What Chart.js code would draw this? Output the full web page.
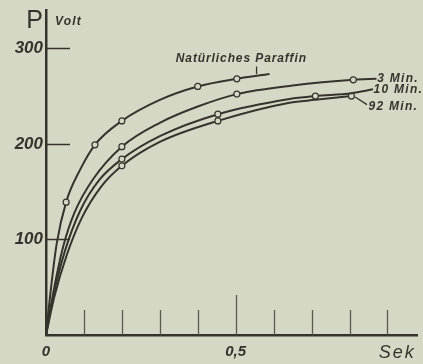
<!DOCTYPE html>
<html>
<head>
<meta charset="utf-8">
<script src="https://cdn.jsdelivr.net/npm/chart.js@4.4.1/dist/chart.umd.min.js"></script>
<style>
  html, body { margin: 0; padding: 0; background: #d6d8c6; }
  canvas { display: block; }
</style>
</head>
<body>
<canvas id="c" width="423" height="364"></canvas>
<script>
// Charging voltage P (Volt) over time (Sek) for paraffin samples
const paraffinSek   = [0, 0.01, 0.028, 0.053, 0.09, 0.129, 0.2, 0.3, 0.4, 0.503, 0.589];
const paraffinVolt  = [0, 38, 95, 139, 173, 199, 224, 246, 260, 268, 273];
const paraffinMark  = [0, 0, 0, 1, 0, 1, 1, 0, 1, 1, 0];

const min3Sek  = [0, 0.018, 0.045, 0.075, 0.124, 0.2, 0.3, 0.4, 0.503, 0.65, 0.81, 0.871];
const min3Volt = [0, 42, 92, 128, 163, 197, 222, 239, 252, 261, 267, 268];
const min3Mark = [0, 0, 0, 0, 0, 1, 0, 0, 1, 0, 1, 0];

const min10Sek  = [0, 0.02, 0.05, 0.09, 0.14, 0.2, 0.3, 0.453, 0.642, 0.71, 0.805, 0.862];
const min10Volt = [0, 42, 88, 130, 162, 184, 208, 231, 247, 250, 253, 257];
const min10Mark = [0, 0, 0, 0, 0, 1, 0, 1, 0, 1, 0, 0];

const min92Sek  = [0, 0.022, 0.055, 0.095, 0.145, 0.2, 0.3, 0.453, 0.642, 0.71, 0.805];
const min92Volt = [0, 40, 84, 123, 155, 177, 202, 224, 243, 246, 250];
const min92Mark = [0, 0, 0, 0, 0, 1, 0, 1, 0, 0, 1];

// Curve names and where they are written (Sek, Volt)
const curveNames = ['Natürliches Paraffin', '3 Min.', '10 Min.', '92 Min.'];
const nameSek    = [0.342, 0.873, 0.863, 0.85];
const nameVolt   = [289, 268, 257, 239];

// Short pointer strokes from the names to their curves
const paraffinPointerSek  = [0.555, 0.555];
const paraffinPointerVolt = [273, 281];
const min92PointerSek  = [0.815, 0.846];
const min92PointerVolt = [249, 241];

// Axis ticks
const voltTicks = [100, 200, 300];
const sekTicks  = [0.1, 0.2, 0.3, 0.4, 0.5, 0.6, 0.7, 0.8, 0.9];
const sekLabels = { '0': '0', '0.5': '0,5' };

const INK = '#35342c';
const PAPER = '#d6d8c6';

function pts(xs, ys) { return xs.map((x, i) => ({ x: x, y: ys[i] })); }

function curve(xs, ys, marks) {
  return {
    data: pts(xs, ys),
    borderColor: INK,
    borderWidth: 2,
    cubicInterpolationMode: 'monotone',
    pointRadius: marks.map(m => m ? 3 : 0),
    pointBorderWidth: 1.2,
    pointBorderColor: INK,
    pointBackgroundColor: PAPER,
    fill: false
  };
}

function pointer(xs, ys) {
  return {
    data: pts(xs, ys),
    borderColor: INK,
    borderWidth: 1.3,
    pointRadius: 0,
    tension: 0,
    fill: false
  };
}

const decorations = {
  id: 'decorations',
  beforeDraw(chart) {
    const ctx = chart.ctx;
    ctx.save();
    ctx.fillStyle = PAPER;
    ctx.fillRect(0, 0, chart.width, chart.height);
    ctx.restore();
  },
  afterDraw(chart) {
    const ctx = chart.ctx;
    const xs = chart.scales.x, ys = chart.scales.y;
    const area = chart.chartArea;
    ctx.save();

    // inward tick strokes on the time axis
    ctx.strokeStyle = '#5a5950';
    ctx.lineWidth = 1.3;
    sekTicks.forEach(v => {
      const px = Math.round(xs.getPixelForValue(v)) + 0.5;
      const len = Math.abs(v - 0.5) < 1e-9 ? 40 : 25;
      ctx.beginPath();
      ctx.moveTo(px, area.bottom);
      ctx.lineTo(px, area.bottom - len);
      ctx.stroke();
    });

    // inward tick strokes on the voltage axis
    ctx.strokeStyle = INK;
    ctx.lineWidth = 1.5;
    voltTicks.forEach(v => {
      const py = Math.round(ys.getPixelForValue(v)) + 0.5;
      ctx.beginPath();
      ctx.moveTo(area.left, py);
      ctx.lineTo(area.left + 24, py);
      ctx.stroke();
    });

    // curve names
    ctx.fillStyle = INK;
    ctx.textBaseline = 'middle';
    ctx.textAlign = 'left';
    curveNames.forEach((name, i) => {
      ctx.font = 'italic bold 12px "Liberation Sans", sans-serif';
      ctx.letterSpacing = i === 0 ? '0.9px' : '1.3px';
      ctx.fillText(name, xs.getPixelForValue(nameSek[i]), ys.getPixelForValue(nameVolt[i]));
    });

    // axis titles
    ctx.letterSpacing = '0px';
    ctx.font = '25px "Liberation Sans", sans-serif';
    ctx.textAlign = 'right';
    ctx.textBaseline = 'alphabetic';
    ctx.fillText('P', area.left - 3, area.top + 18);
    ctx.font = 'italic bold 12px "Liberation Sans", sans-serif';
    ctx.letterSpacing = '1.2px';
    ctx.textAlign = 'left';
    ctx.fillText('Volt', area.left + 9, area.top + 15);
    ctx.font = 'italic 18px "Liberation Sans", sans-serif';
    ctx.letterSpacing = '2px';
    ctx.textAlign = 'right';
    ctx.fillText('Sek', area.right - 2, area.bottom + 23);

    ctx.restore();
  }
};

new Chart(document.getElementById('c'), {
  type: 'line',
  data: {
    datasets: [
      curve(paraffinSek, paraffinVolt, paraffinMark),
      curve(min3Sek, min3Volt, min3Mark),
      curve(min10Sek, min10Volt, min10Mark),
      curve(min92Sek, min92Volt, min92Mark),
      pointer(paraffinPointerSek, paraffinPointerVolt),
      pointer(min92PointerSek, min92PointerVolt)
    ]
  },
  options: {
    responsive: false,
    animation: false,
    devicePixelRatio: 1,
    layout: { padding: { top: 10, right: 0, left: 0, bottom: 0 } },
    plugins: { legend: { display: false }, tooltip: { enabled: false } },
    scales: {
      x: {
        type: 'linear',
        min: 0,
        max: 0.98,
        grid: { display: false, drawTicks: false },
        border: { display: true, color: INK, width: 2.5 },
        ticks: {
          stepSize: 0.1,
          autoSkip: false,
          maxRotation: 0,
          padding: 8,
          color: INK,
          font: { family: '"Liberation Sans", sans-serif', size: 15, style: 'italic', weight: 'bold' },
          callback: v => {
            const k = String(Math.round(v * 10) / 10);
            return sekLabels[k] !== undefined && Math.abs(v * 10 - Math.round(v * 10)) < 1e-6 ? sekLabels[k] : '';
          }
        },
        afterFit: s => { s.height = 29; s.paddingRight = 0; s.paddingLeft = 0; }
      },
      y: {
        min: 0,
        max: 340,
        grid: { display: false, drawTicks: false },
        border: { display: true, color: INK, width: 2.5 },
        ticks: {
          stepSize: 100,
          padding: 3,
          color: INK,
          font: { family: '"Liberation Sans", sans-serif', size: 17, style: 'italic', weight: 'bold' },
          callback: v => voltTicks.includes(v) ? String(v) : ''
        },
        afterFit: s => { s.width = 46; s.paddingTop = 0; s.paddingBottom = 0; }
      }
    }
  },
  plugins: [decorations]
});
</script>
</body>
</html>
